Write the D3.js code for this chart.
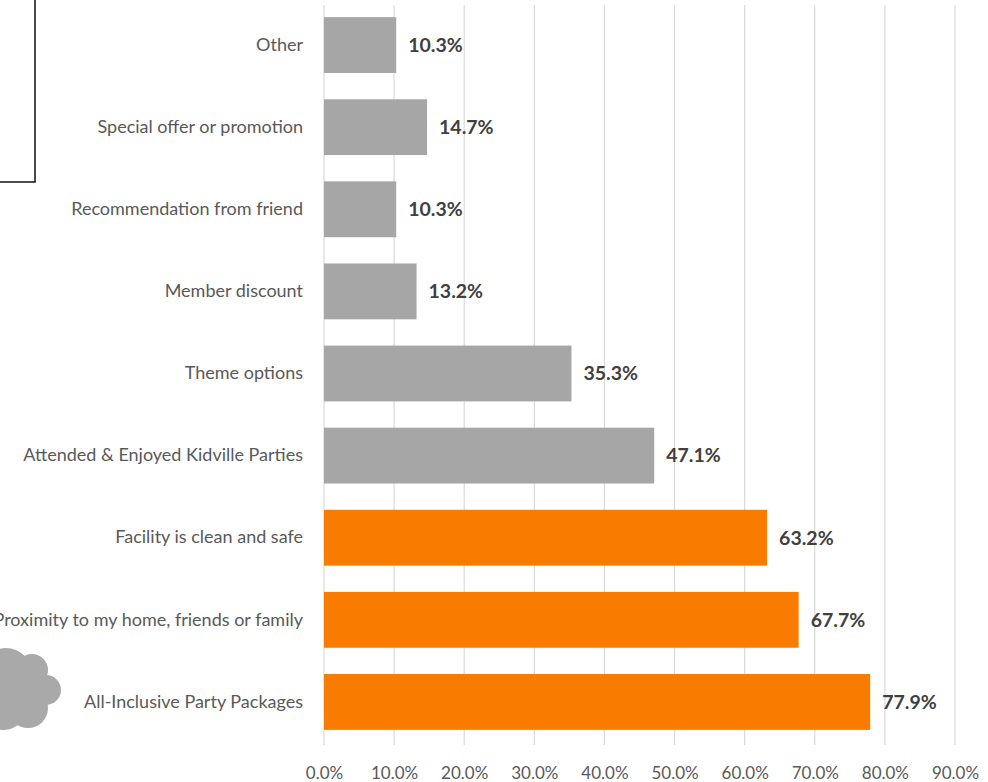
<!DOCTYPE html>
<html>
<head>
<meta charset="utf-8">
<script src="https://cdn.jsdelivr.net/npm/d3@7"></script>
<style>
  body { margin: 0; background: #fff; }
  svg { display: block; }
  text { font-family: Lato, "Open Sans", sans-serif; }
</style>
</head>
<body>
<div id="chart"></div>
<script>
// reasons for choosing the party venue, top to bottom
var categories = [
  "Other",
  "Special offer or promotion",
  "Recommendation from friend",
  "Member discount",
  "Theme options",
  "Attended & Enjoyed Kidville Parties",
  "Facility is clean and safe",
  "Proximity to my home, friends or family",
  "All-Inclusive Party Packages"
];
var values = [10.3, 14.7, 10.3, 13.2, 35.3, 47.1, 63.2, 67.7, 77.9];
var highlighted = [false, false, false, false, false, false, true, true, true];
var tickValues = [0, 10, 20, 30, 40, 50, 60, 70, 80, 90];

(function() {
  var width = 988, height = 782;
  var margin = { left: 324, right: 33, top: 4, bottom: 39 };

  var svg = d3.select("#chart")
    .append("svg")
    .attr("width", width)
    .attr("height", height);

  var x = d3.scaleLinear().domain([0, 90]).range([margin.left, width - margin.right]);
  var y = d3.scaleBand().domain(categories)
    .range([margin.top, height - margin.bottom])
    .paddingInner(0.32).paddingOuter(0.16);

  // gridlines
  svg.append("g")
    .selectAll("line")
    .data(tickValues)
    .enter().append("line")
    .attr("x1", function(d) { return x(d); })
    .attr("x2", function(d) { return x(d); })
    .attr("y1", 5)
    .attr("y2", 745)
    .attr("stroke", "#d9d9d9")
    .attr("stroke-width", 1.2);

  // bars
  svg.append("g")
    .selectAll("rect")
    .data(categories)
    .enter().append("rect")
    .attr("x", x(0))
    .attr("y", function(d) { return y(d); })
    .attr("width", function(d, i) { return x(values[i]) - x(0); })
    .attr("height", y.bandwidth())
    .attr("fill", function(d, i) { return highlighted[i] ? "#f97b00" : "#a6a6a6"; });

  // value labels
  svg.append("g")
    .selectAll("text")
    .data(categories)
    .enter().append("text")
    .attr("x", function(d, i) { return x(values[i]) + 12; })
    .attr("y", function(d) { return y(d) + y.bandwidth() / 2; })
    .attr("dy", "0.35em")
    .attr("font-size", 19.5)
    .attr("font-weight", "bold")
    .attr("fill", "#404040")
    .text(function(d, i) { return values[i].toFixed(1) + "%"; });

  // category labels (the long one runs off the left edge, as in the original)
  var yAxis = d3.axisLeft(y).tickSize(0).tickPadding(21);
  svg.append("g")
    .attr("class", "axis y-axis")
    .attr("transform", "translate(" + x(0) + ",0)")
    .call(yAxis)
    .call(function(g) { g.select(".domain").remove(); })
    .selectAll("text")
    .attr("font-size", 18)
    .attr("font-family", "Lato, 'Open Sans', sans-serif")
    .attr("fill", "#595959");

  // bottom tick labels
  var xAxis = d3.axisBottom(x).tickValues(tickValues).tickSize(0).tickPadding(0)
    .tickFormat(function(d) { return d.toFixed(1) + "%"; });
  svg.append("g")
    .attr("class", "axis x-axis")
    .attr("transform", "translate(0,767)")
    .call(xAxis)
    .call(function(g) { g.select(".domain").remove(); })
    .selectAll("text")
    .attr("font-size", 17)
    .attr("font-family", "Lato, 'Open Sans', sans-serif")
    .attr("fill", "#595959");

  // box in the top-left corner
  svg.append("rect")
    .attr("x", -10)
    .attr("y", -10)
    .attr("width", 45)
    .attr("height", 192)
    .attr("fill", "none")
    .attr("stroke", "#111")
    .attr("stroke-width", 1.5);

  // grey cloud shape at bottom left
  var cloud = svg.append("g").attr("fill", "#a9a9a9");
  [[6, 674, 26], [32, 670, 16], [46, 690, 15], [28, 708, 20], [4, 708, 22], [24, 690, 18]]
    .forEach(function(c) {
      cloud.append("circle").attr("cx", c[0]).attr("cy", c[1]).attr("r", c[2]);
    });
})();
</script>
</body>
</html>
